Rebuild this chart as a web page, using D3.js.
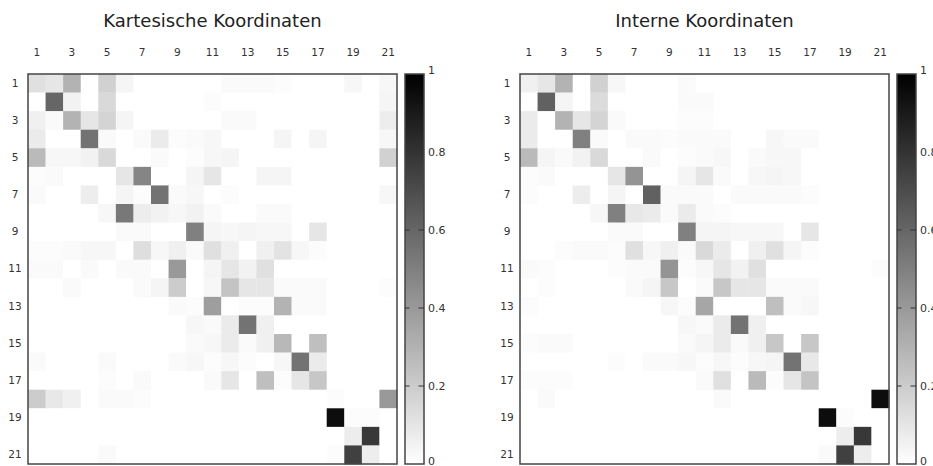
<!DOCTYPE html>
<html>
<head>
<meta charset="utf-8">
<script src="https://cdn.jsdelivr.net/npm/d3@7"></script>
<style>
  body { margin: 0; background: #fff; }
  svg { display: block; font-family: "DejaVu Sans", sans-serif; }
</style>
</head>
<body>
<div id="chart"></div>
<script>
// atom indices (rows / columns) and the labels shown on the axes
const atoms = [1, 2, 3, 4, 5, 6, 7, 8, 9, 10, 11, 12, 13, 14, 15, 16, 17, 18, 19, 20, 21];
const tickLabels = [1, 3, 5, 7, 9, 11, 13, 15, 17, 19, 21];
const colorTicks = [0, 0.2, 0.4, 0.6, 0.8, 1];
const titles = ["Kartesische Koordinaten", "Interne Koordinaten"];

// Kartesische Koordinaten, one row per atom
const cartesian = [
  [0.12,0.10,0.30,0,0.18,0.04,0,0,0,0,0,0.02,0.02,0.02,0.01,0,0,0,0.03,0,0.03],
  [0,0.60,0.05,0,0.15,0,0,0,0,0,0.01,0,0,0,0,0,0,0,0,0,0.04],
  [0.06,0.02,0.30,0.10,0.17,0.04,0,0,0,0,0,0.02,0.02,0,0,0,0,0,0,0,0.07],
  [0.08,0,0,0.55,0.02,0,0.02,0.08,0.01,0.02,0.03,0,0,0,0.04,0,0.04,0,0,0,0.03],
  [0.27,0.03,0.03,0.05,0.15,0,0,0.02,0,0.01,0.03,0.04,0,0,0,0,0,0,0,0,0.18],
  [0.01,0.02,0,0,0,0.10,0.48,0,0,0.04,0.10,0,0,0.04,0.04,0,0,0,0,0,0],
  [0.02,0,0,0.07,0,0.04,0.01,0.55,0.02,0.03,0,0.01,0,0,0,0,0,0,0,0,0.03],
  [0,0,0,0,0.03,0.53,0.07,0.05,0.03,0.05,0.02,0,0,0.02,0.02,0,0,0,0,0,0],
  [0,0,0,0,0,0.02,0.02,0,0,0.50,0.04,0.03,0.04,0.03,0.03,0,0.10,0,0,0,0],
  [0.01,0.01,0.02,0.03,0.03,0,0.13,0.03,0.06,0.02,0.12,0.06,0,0.06,0.11,0.03,0.01,0,0,0,0],
  [0.02,0.02,0,0.02,0,0.02,0.02,0,0.40,0,0.04,0.10,0.05,0.12,0,0,0,0,0,0,0],
  [0,0,0.02,0,0,0,0.02,0.04,0.20,0,0.03,0.23,0.10,0.10,0.02,0.02,0.02,0,0,0,0.01],
  [0,0,0,0,0,0,0,0,0.02,0.01,0.38,0,0.01,0.01,0.30,0.02,0.02,0,0,0,0],
  [0,0,0,0,0,0,0,0,0,0.03,0.02,0.08,0.55,0.06,0,0,0,0,0,0,0],
  [0,0,0,0,0,0,0,0,0,0.02,0.03,0.08,0.02,0.06,0.28,0,0.25,0,0,0,0],
  [0.02,0,0,0,0.02,0,0,0,0.02,0.03,0.01,0.03,0.01,0,0.03,0.55,0.08,0,0,0,0],
  [0,0,0,0,0.01,0,0.02,0,0,0,0.02,0.10,0,0.25,0.01,0.10,0.22,0,0,0,0],
  [0.20,0.09,0.06,0,0.02,0.02,0.01,0,0,0,0,0,0,0,0,0,0,0.01,0,0,0.40],
  [0,0,0,0,0,0,0,0,0,0,0,0,0,0,0,0,0,0.95,0.01,0.01,0],
  [0,0,0,0,0,0,0,0,0,0,0,0,0,0,0,0,0,0,0.07,0.78,0],
  [0,0,0,0,0.02,0,0,0,0,0,0,0,0,0,0,0,0,0.01,0.75,0.07,0]
];

// Interne Koordinaten
const internal = [
  [0.06,0.10,0.30,0,0.18,0.03,0,0,0,0.02,0,0,0,0,0,0,0,0,0,0,0],
  [0,0.62,0.04,0,0.14,0,0,0,0,0.02,0.02,0,0,0,0,0,0,0,0,0,0],
  [0.08,0,0.30,0.10,0.17,0.02,0,0,0,0.01,0.01,0,0,0,0,0,0,0,0,0,0],
  [0.08,0,0,0.50,0.02,0,0.02,0.02,0.01,0.02,0.02,0.02,0,0,0.03,0.02,0.02,0,0,0,0],
  [0.27,0.04,0.02,0.05,0.15,0,0,0.02,0,0.01,0.02,0.03,0,0.02,0.03,0.03,0,0,0,0,0],
  [0.01,0.02,0,0,0,0.10,0.42,0,0,0.04,0.10,0.02,0,0.03,0.04,0.03,0,0,0,0,0],
  [0.01,0,0,0.07,0,0.04,0,0.62,0.02,0.02,0.02,0,0.02,0.02,0.02,0.02,0.01,0,0,0,0],
  [0,0,0,0,0.03,0.50,0.09,0.08,0.02,0.08,0.02,0.01,0,0,0,0,0,0,0,0,0],
  [0,0,0,0,0,0.02,0.02,0,0,0.50,0.04,0.04,0.03,0.03,0.03,0,0.10,0,0,0,0],
  [0,0,0.01,0.02,0.02,0.01,0.12,0.03,0.06,0.02,0.15,0.08,0,0.06,0.12,0.04,0.01,0,0,0,0],
  [0.02,0.01,0,0,0,0.01,0.02,0.02,0.42,0.01,0.03,0.10,0.05,0.12,0,0,0,0,0,0,0.01],
  [0,0.01,0,0,0,0,0.02,0.04,0.22,0,0.02,0.22,0.10,0.10,0.02,0.02,0.02,0,0,0,0],
  [0.01,0,0,0,0,0,0,0,0.03,0.01,0.35,0,0,0,0.25,0.02,0.03,0,0,0,0],
  [0,0,0,0,0,0,0,0,0,0.03,0.02,0.08,0.55,0.06,0,0,0,0,0,0,0],
  [0.01,0.02,0.02,0,0,0,0,0,0,0.02,0.04,0.08,0.02,0.06,0.22,0,0.22,0,0,0,0],
  [0,0,0,0,0,0.01,0,0.02,0.02,0.03,0.01,0.03,0.01,0.03,0.04,0.55,0.09,0,0,0,0],
  [0.01,0.01,0.01,0,0,0,0,0,0,0,0.02,0.12,0,0.27,0.01,0.10,0.23,0,0,0,0],
  [0,0.02,0,0,0,0,0,0,0,0,0,0.02,0,0,0,0,0,0,0,0,0.95],
  [0,0,0,0,0,0,0,0,0,0,0,0,0,0,0,0,0,0.95,0.01,0,0],
  [0,0,0,0,0,0,0,0,0,0,0,0,0,0,0,0,0,0,0.07,0.78,0],
  [0,0,0,0,0,0,0,0,0,0,0,0,0,0,0,0,0,0.02,0.75,0.07,0]
];

const W = 933, H = 466;
const marginTop = 74, plotW = 369, plotH = 390;
const panels = [
  {title: titles[0], data: cartesian, left: 28, cbLeft: 405},
  {title: titles[1], data: internal, left: 520, cbLeft: 897}
];
const cbW = 19;

const svg = d3.select("#chart").append("svg")
    .attr("width", W)
    .attr("height", H);

const color = d3.scaleLinear().domain([0, 1]).range(["#ffffff", "#000000"]);

// shared gradient for the colour bars
const grad = svg.append("defs").append("linearGradient")
    .attr("id", "greys")
    .attr("x1", 0).attr("y1", 1).attr("x2", 0).attr("y2", 0);
grad.selectAll("stop")
    .data(colorTicks)
    .enter().append("stop")
    .attr("offset", d => d)
    .attr("stop-color", d => color(d));

const x = d3.scaleBand().domain(atoms).range([0, plotW]);
const y = d3.scaleBand().domain(atoms).range([0, plotH]);
const cb = d3.scaleLinear().domain([0, 1]).range([plotH, 0]);

panels.forEach(p => {
    const g = svg.append("g").attr("transform", `translate(${p.left}, ${marginTop})`);

    // title
    g.append("text")
        .attr("x", plotW / 2)
        .attr("y", 27 - marginTop)
        .attr("text-anchor", "middle")
        .attr("font-size", 18)
        .attr("fill", "#222")
        .text(p.title);

    // cells
    const cells = [];
    p.data.forEach((row, i) => row.forEach((v, j) => cells.push({r: atoms[i], c: atoms[j], v: v})));
    g.selectAll("rect.cell")
        .data(cells)
        .enter().append("rect")
        .attr("class", "cell")
        .attr("x", d => x(d.c))
        .attr("y", d => y(d.r))
        .attr("width", x.bandwidth() + 0.3)
        .attr("height", y.bandwidth() + 0.3)
        .attr("fill", d => color(d.v));

    // frame
    g.append("rect")
        .attr("width", plotW)
        .attr("height", plotH)
        .attr("fill", "none")
        .attr("stroke", "#444")
        .attr("stroke-width", 1.5);

    // top axis
    const xa = g.append("g")
        .call(d3.axisTop(x).tickValues(tickLabels).tickSize(0).tickPadding(18));
    xa.select(".domain").remove();
    xa.selectAll("text").attr("font-size", 10.5).attr("fill", "#333").attr("font-family", "DejaVu Sans");

    // left axis
    const ya = g.append("g")
        .call(d3.axisLeft(y).tickValues(tickLabels).tickSize(0));
    ya.select(".domain").remove();
    ya.selectAll("text")
        .attr("x", -13)
        .attr("text-anchor", "middle")
        .attr("font-size", 10.5).attr("fill", "#333").attr("font-family", "DejaVu Sans");

    // colour bar
    const c = svg.append("g").attr("transform", `translate(${p.cbLeft}, ${marginTop})`);
    c.append("rect")
        .attr("width", cbW)
        .attr("height", plotH)
        .attr("fill", "url(#greys)")
        .attr("stroke", "#444")
        .attr("stroke-width", 1.5);

    c.selectAll("line.tl")
        .data(colorTicks.slice(1, -1))
        .enter().append("line")
        .attr("x1", 0).attr("x2", 4.5)
        .attr("y1", d => cb(d)).attr("y2", d => cb(d))
        .attr("stroke", "#333").attr("stroke-width", 1);
    c.selectAll("line.tr")
        .data(colorTicks.slice(1, -1))
        .enter().append("line")
        .attr("x1", cbW - 5.5).attr("x2", cbW)
        .attr("y1", d => cb(d)).attr("y2", d => cb(d))
        .attr("stroke", "#333").attr("stroke-width", 1);

    const ca = c.append("g")
        .attr("transform", `translate(${cbW}, 0)`)
        .call(d3.axisRight(cb).tickValues(colorTicks).tickSize(0).tickPadding(4)
            .tickFormat(d => d3.format("")(d)));
    ca.select(".domain").remove();
    ca.selectAll("text")
        .attr("dy", d => d === 1 ? "-0.05em" : (d === 0 ? "0.05em" : "0.32em"))
        .attr("font-size", 11).attr("fill", "#333").attr("font-family", "DejaVu Sans");
});
</script>
</body>
</html>
